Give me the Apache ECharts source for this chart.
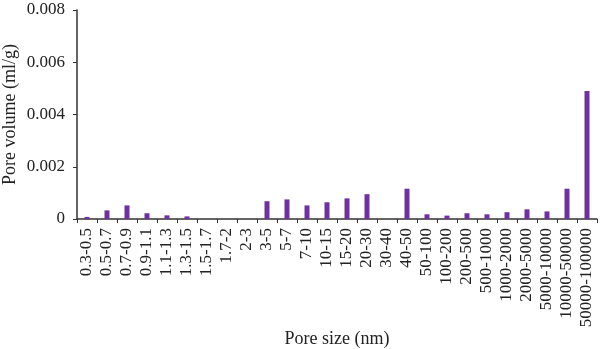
<!DOCTYPE html>
<html>
<head>
<meta charset="utf-8">
<script src="https://cdn.jsdelivr.net/npm/echarts@6/dist/echarts.min.js"></script>
<style>
  html, body { margin: 0; padding: 0; background: #fff; }
  #chart { width: 600px; height: 349px; }
</style>
</head>
<body>
<div id="chart"></div>
<script>
// Pore size intervals (nm)
const poreSizes = [
  '0.3-0.5', '0.5-0.7', '0.7-0.9', '0.9-1.1', '1.1-1.3', '1.3-1.5', '1.5-1.7',
  '1.7-2', '2-3', '3-5', '5-7', '7-10', '10-15', '15-20', '20-30', '30-40',
  '40-50', '50-100', '100-200', '200-500', '500-1000', '1000-2000',
  '2000-5000', '5000-10000', '10000-50000', '50000-100000'
];

// Pore volume per interval (ml/g)
const poreVolume = [
  0.00008, 0.00033, 0.00052, 0.00022, 0.00014, 0.00010, 0, 0, 0,
  0.00068, 0.00075, 0.00052, 0.00064, 0.00079, 0.00095, 0,
  0.00116, 0.00018, 0.00013, 0.00022, 0.00018, 0.00026,
  0.00037, 0.00029, 0.00116, 0.00490
];

// Y-axis range and tick step
const yMin = 0;
const yMax = 0.008;
const yStep = 0.002;

const serif = '"Liberation Serif", "DejaVu Serif", serif';
const axisColor = '#333';
const textColor = '#222';

const chart = echarts.init(document.getElementById('chart'), null, { renderer: 'canvas' });
chart.setOption({
  animation: false,
  backgroundColor: '#fff',
  grid: {
    left: 77, right: 3, top: 10, bottom: 130,
    containLabel: false,
    outerBoundsMode: 'none'
  },
  xAxis: {
    type: 'category',
    data: poreSizes,
    name: 'Pore size (nm)',
    nameLocation: 'middle',
    nameGap: 111,
    nameMoveOverlap: false,
    nameTextStyle: { fontFamily: serif, fontSize: 18, color: textColor },
    axisLine: { lineStyle: { color: axisColor, width: 1.5 } },
    axisTick: { show: true, inside: false, length: 4, lineStyle: { color: axisColor } },
    axisLabel: {
      rotate: 90,
      interval: 0,
      margin: 9,
      fontFamily: serif,
      fontSize: 17,
      color: textColor
    }
  },
  yAxis: {
    type: 'value',
    min: yMin,
    max: yMax,
    interval: yStep,
    name: 'Pore volume (ml/g)',
    nameLocation: 'middle',
    nameGap: 58,
    nameMoveOverlap: false,
    nameTextStyle: { fontFamily: serif, fontSize: 18, color: textColor },
    axisLine: { show: true, lineStyle: { color: axisColor, width: 1.5 } },
    axisTick: { show: true, inside: false, length: 4, lineStyle: { color: axisColor } },
    splitLine: { show: false },
    axisLabel: {
      margin: 12,
      fontFamily: serif,
      fontSize: 17,
      color: textColor,
      formatter: v => (v === 0 ? '0' : v.toFixed(3))
    }
  },
  series: [{
    type: 'bar',
    data: poreVolume,
    barWidth: 5,
    itemStyle: { color: '#7030A0' }
  }]
});
</script>
</body>
</html>
